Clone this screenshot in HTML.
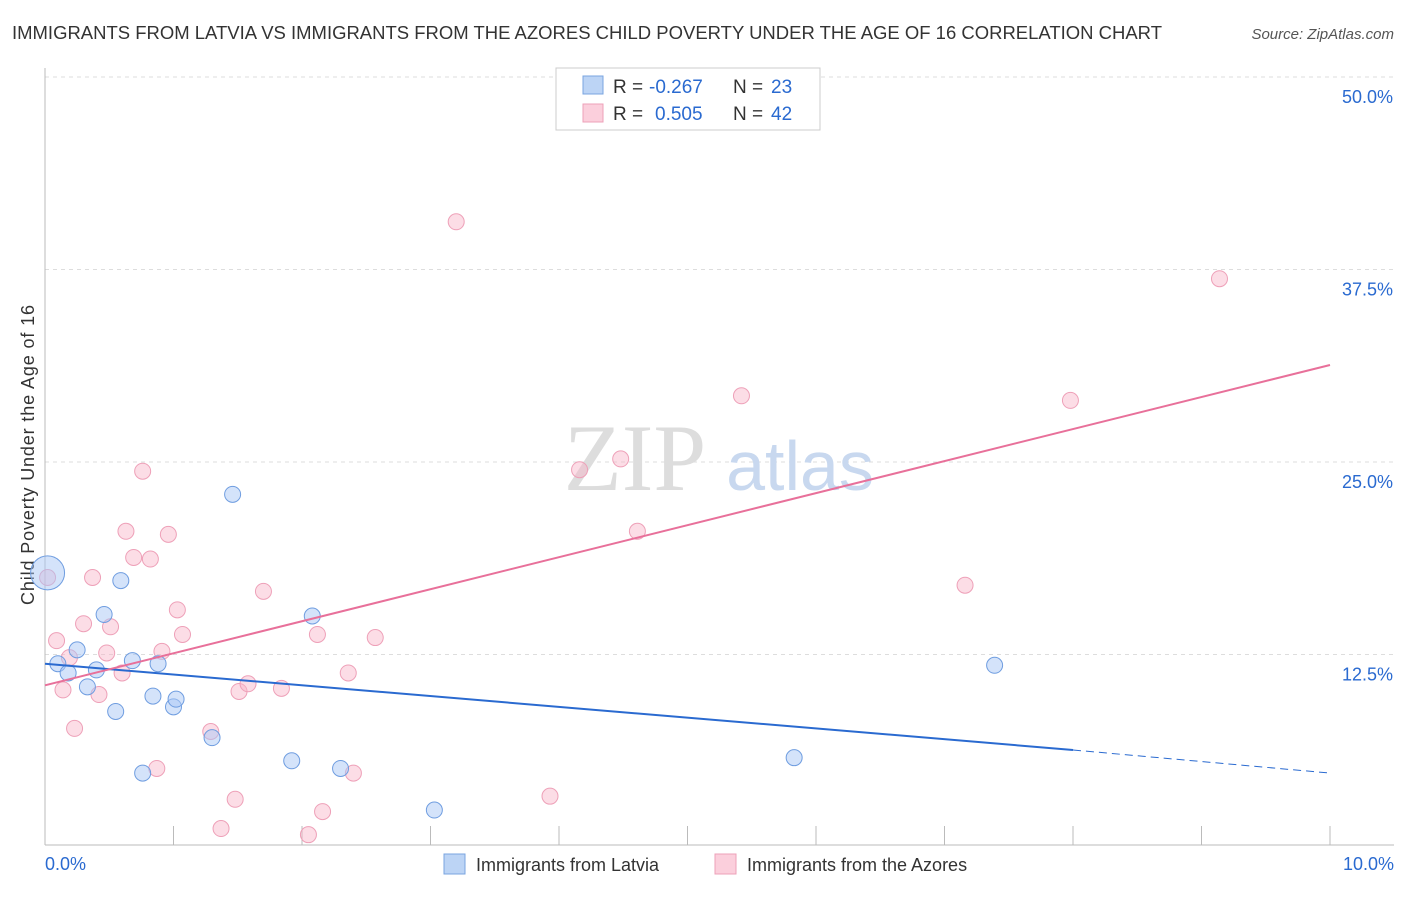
<!DOCTYPE html>
<html><head><meta charset="utf-8"><style>
body{margin:0;background:#fff;font-family:"Liberation Sans",sans-serif;}
svg text{font-family:"Liberation Sans",sans-serif;}
</style></head><body>
<svg id="chart" width="1406" height="892">
<text x="12" y="39" font-size="18" fill="#333" textLength="1150" lengthAdjust="spacingAndGlyphs">IMMIGRANTS FROM LATVIA VS IMMIGRANTS FROM THE AZORES CHILD POVERTY UNDER THE AGE OF 16 CORRELATION CHART</text>
<text x="1394" y="39" font-size="15" fill="#555" font-style="italic" text-anchor="end">Source: ZipAtlas.com</text>
<text x="34" y="455" font-size="18" fill="#333" text-anchor="middle" transform="rotate(-90 34 455)" textLength="300">Child Poverty Under the Age of 16</text>
<g id="grid"></g>
<g id="ticks"></g>
<text x="635" y="490" font-size="95" fill="#ddd" text-anchor="middle" style="font-family:'Liberation Serif',serif">ZIP</text>
<text x="800" y="490" font-size="70" fill="#c8d8ef" text-anchor="middle">atlas</text>
<g id="marks"></g>
<g>
<rect x="556" y="68" width="264" height="62" fill="#fff" stroke="#ccc"/>
<rect x="583" y="76" width="20" height="18" fill="#bcd4f5" stroke="#7aa4e0"/>
<rect x="583" y="104" width="20" height="18" fill="#fbcfdc" stroke="#eea0b8"/>
<text x="613" y="93" font-size="19" fill="#333">R =</text>
<text x="649" y="93" font-size="19" fill="#2a6ad0">-0.267</text>
<text x="733" y="93" font-size="19" fill="#333">N =</text>
<text x="771" y="93" font-size="19" fill="#2a6ad0">23</text>
<text x="613" y="120" font-size="19" fill="#333">R =</text>
<text x="655" y="120" font-size="19" fill="#2a6ad0">0.505</text>
<text x="733" y="120" font-size="19" fill="#333">N =</text>
<text x="771" y="120" font-size="19" fill="#2a6ad0">42</text>
</g>
<g>
<rect x="444" y="854" width="21" height="20" fill="#bcd4f5" stroke="#7aa4e0"/>
<text x="476" y="871" font-size="18" fill="#333">Immigrants from Latvia</text>
<rect x="715" y="854" width="21" height="20" fill="#fbcfdc" stroke="#eea0b8"/>
<text x="747" y="871" font-size="18" fill="#333">Immigrants from the Azores</text>
</g>
</svg>
<script>
const yTicks=[12.5,25,37.5,50];
const yTickLabels=["12.5%","25.0%","37.5%","50.0%"];
const xTickCount=10;
const latviaX=[0.02,0.1,0.18,0.25,0.33,0.4,0.46,0.55,0.59,0.68,0.76,0.84,0.88,1.0,1.02,1.3,1.46,1.92,2.08,2.3,3.03,5.83,7.39];
const latviaY=[17.8,11.9,11.3,12.8,10.4,11.5,15.1,8.8,17.3,12.1,4.8,9.8,11.9,9.1,9.6,7.1,22.9,5.6,15.0,5.1,2.4,5.8,11.8];
const azoresX=[0.02,0.09,0.14,0.19,0.23,0.3,0.37,0.42,0.48,0.51,0.6,0.63,0.69,0.76,0.82,0.87,0.91,0.96,1.03,1.07,1.37,1.29,1.48,1.51,1.58,1.7,1.84,2.05,2.12,2.16,2.36,2.4,2.57,3.2,3.93,4.16,4.48,4.61,5.42,7.16,7.98,9.14];
const azoresY=[17.5,13.4,10.2,12.3,7.7,14.5,17.5,9.9,12.6,14.3,11.3,20.5,18.8,24.4,18.7,5.1,12.7,20.3,15.4,13.8,1.2,7.5,3.1,10.1,10.6,16.6,10.3,0.8,13.8,2.3,11.3,4.8,13.6,40.6,3.3,24.5,25.2,20.5,29.3,17.0,29.0,36.9];
const latviaTrend=[11.9,6.3,4.8];
const azoresTrend=[10.5,31.3];
const X0=45,X1=1330,Y0=847,Y1=77;
const xs=v=>X0+(X1-X0)*v/10, ys=v=>Y0-(Y0-Y1)*v/50;
const NS="http://www.w3.org/2000/svg";
function mk(t,a,p){const e=document.createElementNS(NS,t);for(const k in a)e.setAttribute(k,a[k]);document.getElementById(p).appendChild(e);return e;}
yTicks.forEach((t,i)=>{
 const l=mk('line',{x1:X0,x2:1394,y1:ys(t),y2:ys(t),stroke:'#ddd','stroke-dasharray':'4,4'},'grid');
 
 
 const tx=mk('text',{x:1393,y:ys(t)+26,'font-size':18,fill:'#2a6ad0','text-anchor':'end'},'grid');
 tx.textContent=yTickLabels[i];
 
 
});
const ax=mk('line',{x1:X0,x2:X0,y1:68,y2:845,stroke:'#bbb'},'grid');


const bx=mk('line',{x1:X0,x2:1394,y1:845,y2:845,stroke:'#bbb'},'grid');


for(let i=0;i<=xTickCount;i++){
 const t=mk('line',{x1:xs(i),x2:xs(i),y1:826,y2:845,stroke:'#bbb'},'ticks');
 
 
}
const xl=mk('text',{x:45,y:870,'font-size':18,fill:'#2a6ad0'},'ticks');xl.textContent='0.0%';


const xr=mk('text',{x:1394,y:870,'font-size':18,fill:'#2a6ad0','text-anchor':'end'},'ticks');xr.textContent='10.0%';


azoresX.forEach((x,i)=>{
 const c=mk('circle',{cx:xs(x),cy:ys(azoresY[i]),r:8,fill:'rgba(248,180,200,0.45)',stroke:'#eea0b8','stroke-width':1},'marks');
 
 
});
latviaX.forEach((x,i)=>{
 const c=mk('circle',{cx:xs(x),cy:ys(latviaY[i]),r:i==0?17:8,fill:'rgba(170,200,245,0.5)',stroke:'#6f9de0','stroke-width':1},'marks');
 
 
});
const lt=mk('line',{x1:xs(0),y1:ys(latviaTrend[0]),x2:xs(8),y2:ys(latviaTrend[1]),stroke:'#2a6ad0','stroke-width':2},'marks');


const ld=mk('line',{x1:xs(8),y1:ys(latviaTrend[1]),x2:xs(10),y2:ys(latviaTrend[2]),stroke:'#2a6ad0','stroke-width':1,'stroke-dasharray':'8,5'},'marks');


const at=mk('line',{x1:xs(0),y1:ys(azoresTrend[0]),x2:xs(10),y2:ys(azoresTrend[1]),stroke:'#e8709a','stroke-width':2},'marks');


</script>
</body></html>
